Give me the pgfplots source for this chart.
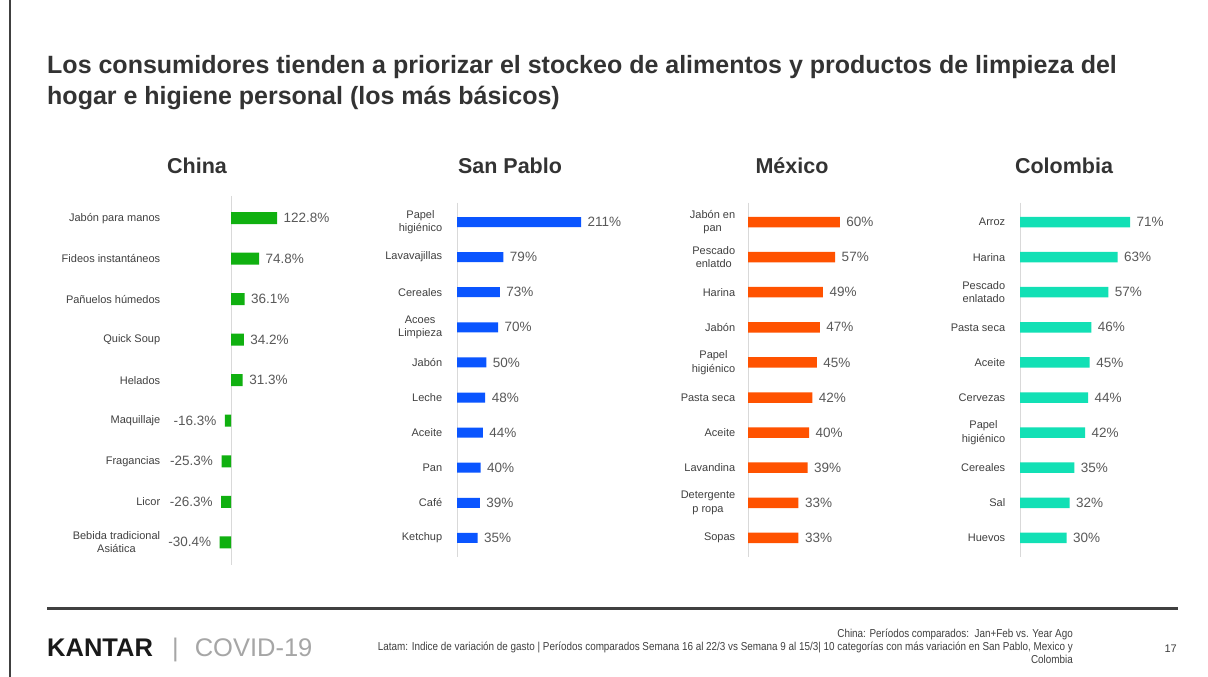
\documentclass[border=0pt]{standalone}
\usepackage{pgfplots}
\pgfplotsset{compat=1.18}
\usepackage{fontspec}
\setmainfont{Liberation Sans}
\newfontfamily\narrowfont[FakeStretch=0.86]{Liberation Sans}
\definecolor{cgreen}{HTML}{10B010}
\definecolor{cblue}{HTML}{0A55FF}
\definecolor{corange}{HTML}{FF5200}
\definecolor{cteal}{HTML}{12E0B5}
\definecolor{titlegray}{HTML}{333333}
\definecolor{labgray}{HTML}{404040}
\definecolor{valgray}{HTML}{595959}
\pgfplotsset{
  panel/.style={
    xbar, scale only axis, y dir=reverse, clip=false,
    enlargelimits=false,
    axis line style={draw=none},
    tick style={draw=none},
    xtick=\empty,
    yticklabel style={font=\fontsize{11}{13.5}\selectfont, align=center, text=labgray},
    bar shift=0pt,
    point meta=explicit symbolic,
    nodes near coords,
    every node near coord/.append style={font=\fontsize{13.5}{14}\selectfont, text=valgray, anchor=west, xshift=3pt},
    anchor=south west,
  }
}
\begin{document}
\begin{tikzpicture}
\path[use as bounding box, fill=white] (0pt,0pt) rectangle (1208pt,677pt);
\draw[labgray, line width=1.5pt] (10pt,0pt) -- (10pt,677pt);
% title
\node[anchor=base west, inner sep=0pt, align=left, text=titlegray,
  font=\fontsize{25}{31}\selectfont\bfseries] at (47pt,572pt)
  {Los consumidores tienden a priorizar el stockeo de alimentos y productos de limpieza del\\hogar e higiene personal (los más básicos)};
% panel titles
\foreach \x/\t in {197/China, 510/San Pablo, 792/México, 1064/Colombia}
  \node[anchor=base, inner sep=0pt, text=titlegray, font=\fontsize{21.5}{24}\selectfont\bfseries] at (\x pt,503pt) {\t};

% China
\begin{axis}[panel, at={(168pt,114.5pt)}, width=192pt, height=364.5pt,
  xmin=-168, xmax=344, ymin=0.5, ymax=9.5,
  ytick={1,...,9},
  yticklabels={Jabón para manos, Fideos instantáneos, Pañuelos húmedos, Quick Soup, Helados, Maquillaje, Fragancias, Licor, {Bebida tradicional\\Asiática}}]
\draw[black!15, line width=0.8pt] (axis cs:0,0.45) -- (axis cs:0,9.55);
\addplot[fill=cgreen, draw=none, bar width=12pt] coordinates {
  (122.8,1) [122.8\%]
  (74.8,2) [74.8\%]
  (36.1,3) [36.1\%]
  (34.2,4) [34.2\%]
  (31.3,5) [31.3\%]
};
\addplot[fill=cgreen, draw=none, bar width=12pt,
  every node near coord/.append style={anchor=east, xshift=-8pt}] coordinates {
  (-16.3,6) [-16.3\%]
  (-25.3,7) [-25.3\%]
  (-26.3,8) [-26.3\%]
  (-30.4,9) [-30.4\%]
};
\end{axis}

% San Pablo
\begin{axis}[panel, at={(450pt,121.5pt)}, width=190pt, height=351pt,
  xmin=-11.9, xmax=311.2, ymin=0.5, ymax=10.5,
  ytick={1,...,10},
  yticklabels={{Papel\\higiénico}, Lavavajillas, Cereales, {Acoes\\Limpieza}, Jabón, Leche, Aceite, Pan, Café, Ketchup}]
\draw[black!15, line width=0.8pt] (axis cs:0,0.45) -- (axis cs:0,10.55);
\addplot[fill=cblue, draw=none, bar width=10pt] coordinates {
  (211,1) [211\%]
  (79,2) [79\%]
  (73,3) [73\%]
  (70,4) [70\%]
  (50,5) [50\%]
  (48,6) [48\%]
  (44,7) [44\%]
  (40,8) [40\%]
  (39,9) [39\%]
  (35,10) [35\%]
};
\end{axis}

% Mexico
\begin{axis}[panel, at={(743pt,121.5pt)}, width=157pt, height=351pt,
  xmin=-3.27, xmax=99.35, ymin=0.5, ymax=10.5,
  ytick={1,...,10},
  yticklabels={{Jabón en\\pan}, {Pescado\\enlatdo}, Harina, Jabón, {Papel\\higiénico}, Pasta seca, Aceite, Lavandina, {Detergente\\p ropa}, Sopas}]
\draw[black!15, line width=0.8pt] (axis cs:0,0.45) -- (axis cs:0,10.55);
\addplot[fill=corange, draw=none, bar width=10.5pt] coordinates {
  (60,1) [60\%]
  (57,2) [57\%]
  (49,3) [49\%]
  (47,4) [47\%]
  (45,5) [45\%]
  (42,6) [42\%]
  (40,7) [40\%]
  (39,8) [39\%]
  (33,9) [33\%]
  (33,10) [33\%]
};
\end{axis}

% Colombia
\begin{axis}[panel, at={(1013pt,121.5pt)}, width=177pt, height=351pt,
  xmin=-4.52, xmax=109.7, ymin=0.5, ymax=10.5,
  ytick={1,...,10},
  yticklabels={Arroz, Harina, {Pescado\\enlatado}, Pasta seca, Aceite, Cervezas, {Papel\\higiénico}, Cereales, Sal, Huevos}]
\draw[black!15, line width=0.8pt] (axis cs:0,0.45) -- (axis cs:0,10.55);
\addplot[fill=cteal, draw=none, bar width=10.5pt] coordinates {
  (71,1) [71\%]
  (63,2) [63\%]
  (57,3) [57\%]
  (46,4) [46\%]
  (45,5) [45\%]
  (44,6) [44\%]
  (42,7) [42\%]
  (35,8) [35\%]
  (32,9) [32\%]
  (30,10) [30\%]
};
\end{axis}

% footer
\draw[labgray, line width=3pt] (47pt,68pt) -- (1178pt,68pt);
\node[anchor=base west, inner sep=0pt, font=\fontsize{25.5}{26}\selectfont\bfseries, text=black!90] at (47pt,20pt) {KANTAR};
\node[anchor=base west, inner sep=0pt, font=\fontsize{25.5}{26}\selectfont, text=black!35] at (172pt,20pt) {|\hspace{16pt}COVID-19};
\node[anchor=base east, inner sep=0pt, align=right, text=labgray, font=\narrowfont\fontsize{11.5}{13}\selectfont] at (1073pt,13pt)
  {China: Períodos comparados:\ \ Jan+Feb vs. Year Ago\\Latam: Indice de variación de gasto | Períodos comparados Semana 16 al 22/3 vs Semana 9 al 15/3| 10 categorías con más variación en San Pablo, Mexico y\\Colombia};
\node[anchor=base east, inner sep=0pt, text=labgray, font=\fontsize{11}{12}\selectfont] at (1177pt,24pt) {17};
\end{tikzpicture}
\end{document}
